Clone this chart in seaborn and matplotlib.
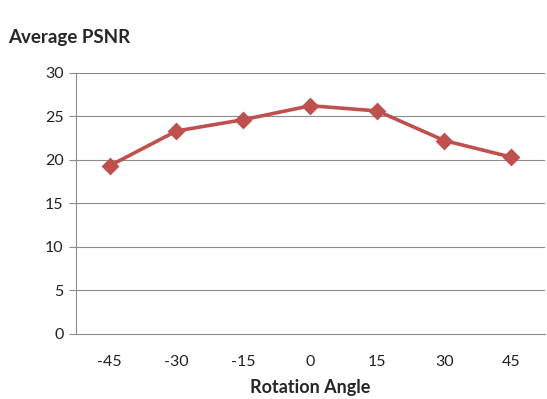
import matplotlib
matplotlib.use("Agg")
import matplotlib.pyplot as plt
import seaborn as sns
import pandas as pd

angles = ["-45", "-30", "-15", "0", "15", "30", "45"]
psnr = [19.3, 23.3, 24.6, 26.2, 25.6, 22.2, 20.3]
yticks = [0, 5, 10, 15, 20, 25, 30]

sns.set_theme(style="white")
plt.rcParams['font.family'] = ['Lato', 'DejaVu Sans']

df = pd.DataFrame({"angle": angles, "psnr": psnr})

fig = plt.figure(figsize=(5.47, 3.99), dpi=100)
ax = fig.add_axes([0.139, 0.163, 0.857, 0.655])

grid_c = "#8c8c8c"
for y in yticks[1:]:
    ax.axhline(y, color=grid_c, lw=0.8, zorder=0)

sns.pointplot(data=df, x="angle", y="psnr", order=angles, color="#C0504D",
              markers="D", linewidth=2.6, markersize=7.5, ax=ax, errorbar=None)

ax.set_xlim(-0.5, 6.5)
ax.set_ylim(0, 30)
ax.set_yticks(yticks)
ax.set_yticklabels([str(v) for v in yticks], fontsize=11.5, color="#222222")
ax.set_xticks(range(len(angles)))
ax.set_xticklabels(angles, fontsize=11.5, color="#222222")
ax.set_xticks([i - 0.5 for i in range(len(angles) + 1)], minor=True)
ax.tick_params(axis="x", which="major", length=0, pad=15)
ax.tick_params(axis="x", which="minor", length=5, color=grid_c, width=0.8, direction="out")
ax.tick_params(axis="y", length=5, color=grid_c, width=0.8, direction="out", left=True, pad=4)

for s in ["top", "right"]:
    ax.spines[s].set_visible(False)
for s in ["left", "bottom"]:
    ax.spines[s].set_color(grid_c)
    ax.spines[s].set_linewidth(0.8)

ax.set_xlabel("Rotation Angle", fontsize=13, fontweight="bold", labelpad=7)
ax.set_ylabel("")
fig.text(0.015, 0.907, "Average PSNR", fontsize=13.5, fontweight="bold", ha="left", va="center")

fig.savefig("out.png", dpi=100, facecolor="white")
